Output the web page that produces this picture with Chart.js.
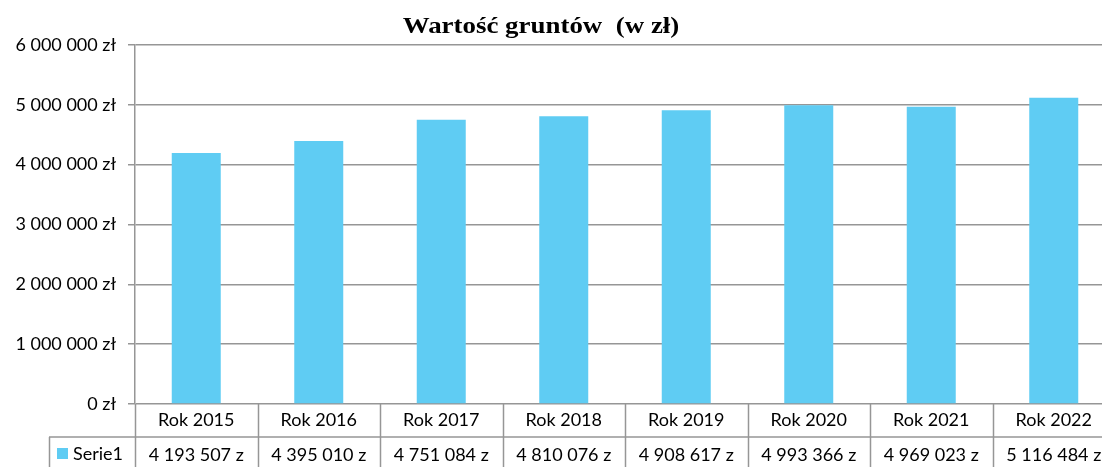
<!DOCTYPE html>
<html><head><meta charset="utf-8">
<script src="https://cdn.jsdelivr.net/npm/chart.js@4"></script>
<style>html,body{margin:0;padding:0;overflow:hidden;background:#fff}#wrap{width:1120px;height:467px}</style>
</head><body><div id="wrap"><canvas id="c" width="1120" height="467"></canvas></div>
<script>
const categories = ['Rok 2015','Rok 2016','Rok 2017','Rok 2018','Rok 2019','Rok 2020','Rok 2021','Rok 2022'];
const serie1 = [4193507, 4395010, 4751084, 4810076, 4908617, 4993366, 4969023, 5116484];
const seriesName = 'Serie1';
const yTicks = [0, 1000000, 2000000, 3000000, 4000000, 5000000, 6000000];
const titleText = 'Wartość gruntów  (w zł)';

const FONT = 'Lato, "Open Sans", sans-serif';
const BAR = '#5fccf3';
const GRID = '#969696';
function grp(v){ return String(v).replace(/\B(?=(\d{3})+(?!\d))/g, ' '); }

const tablePlugin = {
  id: 'tablePlugin',
  afterDraw(chart){
    const ctx = chart.ctx, xs = chart.scales.x, ca = chart.chartArea;
    const r1Top = ca.bottom, r2Top = ca.bottom + 33, bottom = 467;
    const n = categories.length;
    const cw = xs.getPixelForValue(1) - xs.getPixelForValue(0);
    ctx.save();
    ctx.strokeStyle = GRID; ctx.lineWidth = 1.5;
    ctx.beginPath();
    for (let i = 0; i <= n; i++) {
      const x = Math.round(xs.getPixelForValue(i) - cw/2) + 0.5;
      ctx.moveTo(x, r1Top); ctx.lineTo(x, bottom);
    }
    ctx.moveTo(49, r2Top); ctx.lineTo(ca.right, r2Top);
    ctx.moveTo(49.5, r2Top); ctx.lineTo(49.5, bottom);
    ctx.stroke();
    ctx.fillStyle = '#000';
    ctx.font = '18px ' + FONT;
    ctx.textAlign = 'center'; ctx.textBaseline = 'middle';
    for (let i = 0; i < n; i++) {
      const x = xs.getPixelForValue(i);
      ctx.fillText(categories[i], x, r1Top + 16);
      ctx.fillText(grp(serie1[i]) + ' z', x, r2Top + 18);
    }
    ctx.fillStyle = BAR;
    ctx.fillRect(57, r2Top + 11, 11, 11);
    ctx.fillStyle = '#000';
    ctx.textAlign = 'left';
    ctx.fillText(seriesName, 73, r2Top + 17);
    // title (slightly stretched horizontally like the reference)
    ctx.font = 'bold 23px "Liberation Serif", "DejaVu Serif", serif';
    ctx.textAlign = 'center'; ctx.textBaseline = 'alphabetic';
    ctx.translate(541, 33);
    ctx.scale(1.17, 1);
    ctx.fillText(titleText, 0, 0);
    ctx.restore();
  }
};

new Chart(document.getElementById('c'), {
  type: 'bar',
  data: { labels: categories, datasets: [{ label: seriesName, data: serie1, backgroundColor: BAR,
    categoryPercentage: 1.0, barPercentage: 0.4 }] },
  options: {
    responsive: false, animation: false,
    layout: { padding: { top: 45, bottom: 63, right: 5, left: 0 } },
    plugins: { legend: { display: false }, tooltip: { enabled: false }, title: { display: false } },
    scales: {
      x: { display: false, offset: true },
      y: {
        min: 0, max: 6000000,
        afterFit(s){ s.width = 135; },
        afterBuildTicks(s){ s.ticks = yTicks.map(v => ({ value: v })); },
        grid: { color: GRID, lineWidth: 1.5, tickLength: 7, drawTicks: true },
        border: { display: true, color: GRID, width: 1.5 },
        ticks: { padding: 12, color: '#000', font: { family: FONT, size: 18 },
          callback: v => grp(v) + ' zł' }
      }
    }
  },
  plugins: [tablePlugin]
});
</script></body></html>
